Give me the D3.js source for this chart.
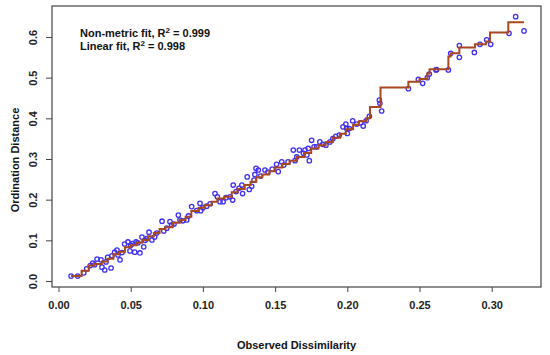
<!DOCTYPE html>
<html>
<head>
<meta charset="utf-8">
<script src="https://cdn.jsdelivr.net/npm/d3@7"></script>
<style>
  html, body { margin: 0; padding: 0; background: #fff; }
  svg { display: block; font-family: "Liberation Sans", Arial, sans-serif; }
</style>
</head>
<body>
<svg id="chart" width="550" height="355"></svg>
<script>
// Observed dissimilarity vs ordination distance (Shepard plot)
const dissim = [
  0.0087, 0.0133, 0.0175, 0.0195, 0.0220, 0.0237, 0.0250, 0.0267, 0.0294, 0.0301,
  0.0320, 0.0329, 0.0340, 0.0364, 0.0370, 0.0389, 0.0405, 0.0426, 0.0412, 0.0440,
  0.0458, 0.0481, 0.0495, 0.0500, 0.0510, 0.0528, 0.0537, 0.0550, 0.0564, 0.0578,
  0.0590, 0.0600, 0.0610, 0.0627, 0.0647, 0.0666, 0.0680, 0.0717, 0.0729, 0.0772,
  0.0784, 0.0750, 0.0800, 0.0830, 0.0841, 0.0860, 0.0888, 0.0900, 0.0922, 0.0957,
  0.0980, 0.0985, 0.1000, 0.1026, 0.1050, 0.1084, 0.1100, 0.1118, 0.1140, 0.1160,
  0.1188, 0.1206, 0.1210, 0.1230, 0.1250, 0.1270, 0.1275, 0.1307, 0.1321, 0.1338,
  0.1354, 0.1368, 0.1360, 0.1384, 0.1400, 0.1430, 0.1450, 0.1480, 0.1510, 0.1522,
  0.1546, 0.1560, 0.1590, 0.1626, 0.1638, 0.1650, 0.1668, 0.1696, 0.1707, 0.1720,
  0.1730, 0.1737, 0.1753, 0.1770, 0.1788, 0.1810, 0.1830, 0.1852, 0.1880, 0.1900,
  0.1920, 0.1945, 0.1970, 0.1996, 0.2000, 0.1990, 0.2014, 0.2037, 0.2065, 0.2093,
  0.2110, 0.2130, 0.2153, 0.2222, 0.2226, 0.2238, 0.2423, 0.2492, 0.2522, 0.2554,
  0.2568, 0.2614, 0.2619, 0.2700, 0.2716, 0.2776, 0.2776, 0.2880, 0.2919, 0.2965,
  0.2993, 0.3120, 0.3166, 0.3224
];
const ordDist = [
  0.012, 0.012, 0.020, 0.030, 0.038, 0.044, 0.040, 0.054, 0.052, 0.034,
  0.027, 0.047, 0.058, 0.032, 0.062, 0.071, 0.076, 0.052, 0.064, 0.070,
  0.091, 0.096, 0.074, 0.088, 0.092, 0.071, 0.096, 0.094, 0.069, 0.108,
  0.084, 0.100, 0.104, 0.120, 0.101, 0.108, 0.118, 0.147, 0.123, 0.146,
  0.138, 0.130, 0.140, 0.162, 0.150, 0.148, 0.150, 0.160, 0.183, 0.173,
  0.191, 0.173, 0.180, 0.184, 0.190, 0.215, 0.207, 0.195, 0.195, 0.205,
  0.207, 0.199, 0.236, 0.220, 0.228, 0.236, 0.215, 0.256, 0.225, 0.233,
  0.248, 0.277, 0.262, 0.273, 0.258, 0.273, 0.268, 0.275, 0.287, 0.269,
  0.293, 0.285, 0.293, 0.322, 0.296, 0.305, 0.322, 0.314, 0.322, 0.310,
  0.326, 0.296, 0.346, 0.330, 0.330, 0.342, 0.336, 0.334, 0.342, 0.350,
  0.356, 0.359, 0.379, 0.375, 0.363, 0.386, 0.375, 0.394, 0.386, 0.389,
  0.381, 0.394, 0.405, 0.445, 0.437, 0.418, 0.473, 0.496, 0.486, 0.500,
  0.509, 0.519, 0.520, 0.519, 0.560, 0.579, 0.550, 0.562, 0.582, 0.593,
  0.582, 0.609, 0.650, 0.615
];

// Monotone (non-metric) step fit: breakpoints and levels
const stepX = [
  0.0087, 0.016, 0.021, 0.025, 0.030, 0.034, 0.038, 0.042, 0.046, 0.050,
  0.054, 0.058, 0.062, 0.066, 0.070, 0.074, 0.079, 0.084, 0.088, 0.092,
  0.097, 0.101, 0.106, 0.110, 0.115, 0.120, 0.124, 0.129, 0.133, 0.137,
  0.141, 0.146, 0.150, 0.155, 0.160, 0.165, 0.170, 0.175, 0.180, 0.185,
  0.190, 0.195, 0.199, 0.204, 0.208, 0.2130, 0.2157, 0.2230, 0.2423, 0.2500,
  0.2554, 0.2570, 0.2700, 0.2716, 0.2776, 0.2884, 0.2960, 0.2988, 0.3115, 0.3224
];
const stepY = [
  0.012, 0.025, 0.038, 0.042, 0.048, 0.055, 0.066, 0.072, 0.083, 0.088,
  0.094, 0.101, 0.110, 0.118, 0.128, 0.132, 0.143, 0.150, 0.158, 0.172,
  0.180, 0.186, 0.195, 0.203, 0.207, 0.218, 0.226, 0.236, 0.244, 0.255,
  0.262, 0.270, 0.279, 0.288, 0.296, 0.305, 0.315, 0.326, 0.334, 0.342,
  0.352, 0.362, 0.373, 0.384, 0.393, 0.400, 0.428, 0.476, 0.490, 0.497,
  0.510, 0.521, 0.552, 0.560, 0.574, 0.582, 0.589, 0.611, 0.636, 0.636
];

const xTicks = [0, 0.05, 0.10, 0.15, 0.20, 0.25, 0.30];
const yTicks = [0, 0.1, 0.2, 0.3, 0.4, 0.5, 0.6];

const svg = d3.select('#chart');
const box = { left: 52, right: 541, top: 6, bottom: 287 };

const x = d3.scaleLinear().domain([0, 0.30]).range([58.5, 491.7]);
const y = d3.scaleLinear().domain([0, 0.6]).range([281, 37]);

// points
svg.append('g')
  .selectAll('circle')
  .data(dissim.map((d, i) => [d, ordDist[i]]))
  .join('circle')
  .attr('cx', d => x(d[0]))
  .attr('cy', d => y(d[1]))
  .attr('r', 2.2)
  .attr('fill', 'none')
  .attr('stroke', '#3f2ff0')
  .attr('stroke-width', 1.3);

// step line
const line = d3.line()
  .x(d => x(d[0]))
  .y(d => y(d[1]))
  .curve(d3.curveStepAfter);

svg.append('path')
  .datum(stepX.map((d, i) => [d, stepY[i]]))
  .attr('d', line)
  .attr('fill', 'none')
  .attr('stroke', '#a9471f')
  .attr('stroke-width', 2);

// box
svg.append('rect')
  .attr('x', box.left)
  .attr('y', box.top)
  .attr('width', box.right - box.left)
  .attr('height', box.bottom - box.top)
  .attr('fill', 'none')
  .attr('stroke', '#444')
  .attr('stroke-width', 1.2);

// x axis
const gx = svg.append('g')
  .attr('transform', `translate(0,${box.bottom})`)
  .call(d3.axisBottom(x).tickValues(xTicks).tickSize(5).tickPadding(9)
    .tickFormat(d3.format('.2f')));
gx.select('.domain').remove();
gx.selectAll('line').attr('stroke', '#444');
gx.selectAll('text')
  .attr('fill', '#222')
  .style('font-size', '11px')
  .style('font-weight', 'bold')
  .style('font-family', '"Liberation Sans", Arial, sans-serif');

// y axis
const gy = svg.append('g')
  .attr('transform', `translate(${box.left},0)`)
  .call(d3.axisLeft(y).tickValues(yTicks).tickSize(6).tickFormat(d3.format('.1f')));
gy.select('.domain').remove();
gy.selectAll('line').attr('stroke', '#444');
gy.selectAll('text')
  .attr('x', null)
  .attr('dy', null)
  .attr('fill', '#222')
  .attr('text-anchor', 'middle')
  .attr('transform', 'translate(-15,0) rotate(-90)')
  .style('font-size', '11px')
  .style('font-weight', 'bold')
  .style('font-family', '"Liberation Sans", Arial, sans-serif');

// axis titles
svg.append('text')
  .attr('x', (box.left + box.right) / 2)
  .attr('y', 349)
  .attr('text-anchor', 'middle')
  .attr('font-size', 11)
  .attr('font-weight', 'bold')
  .attr('fill', '#111')
  .text('Observed Dissimilarity');

svg.append('text')
  .attr('transform', 'translate(19,160) rotate(-90)')
  .attr('text-anchor', 'middle')
  .attr('font-size', 11)
  .attr('font-weight', 'bold')
  .attr('fill', '#111')
  .text('Ordination Distance');

// fit legend
const fits = [['Non-metric fit, R', ' = 0.999'], ['Linear fit, R', ' = 0.998']];
fits.forEach((f, i) => {
  const t = svg.append('text')
    .attr('x', 80)
    .attr('y', 37 + i * 13)
    .attr('font-size', 11)
    .attr('font-weight', 'bold')
    .attr('fill', '#111');
  t.append('tspan').text(f[0]);
  t.append('tspan').attr('dy', -4).attr('font-size', 8).text('2');
  t.append('tspan').attr('dy', 4).text(f[1]);
});
</script>
</body>
</html>
